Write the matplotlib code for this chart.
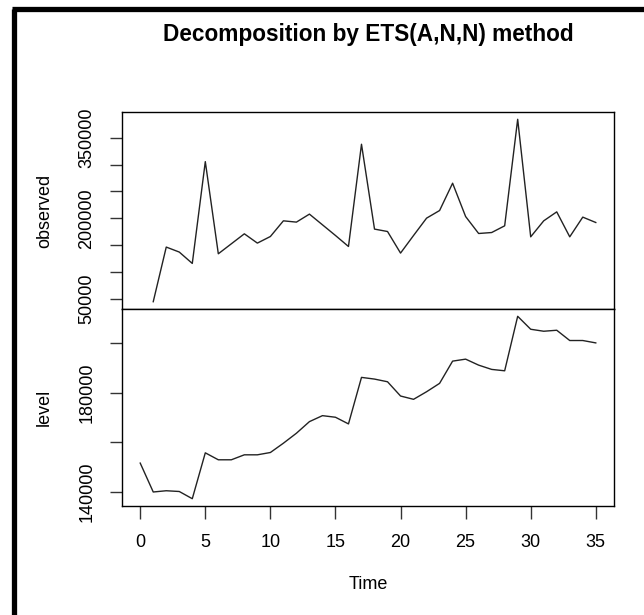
import matplotlib
matplotlib.use("Agg")
import matplotlib.pyplot as plt
from matplotlib.lines import Line2D

plt.rcParams['font.family'] = ['Liberation Sans', 'DejaVu Sans']

title = "Decomposition by ETS(A,N,N) method"

obs_time = list(range(1, 36))
observed = [44400, 146200, 136900, 115700, 305400, 133700, 152300, 170900, 153600, 165900,
            195100, 192700, 207600, 187700, 167800, 147300, 337800, 179700, 175200, 135000,
            167800, 200100, 214300, 265200, 203100, 171500, 173300, 185800, 384300, 165300,
            195100, 211800, 165300, 202000, 192000]

lvl_time = list(range(0, 36))
level = [151620, 140000, 140500, 140200, 137300, 155750, 152950, 152950, 154950, 154950,
         155880, 159620, 163630, 168300, 170700, 170060, 167380, 186090, 185410, 184330,
         178600, 177270, 180320, 183690, 192630, 193430, 191020, 189300, 188740, 210660,
         205450, 204650, 205050, 200920, 200920, 199960]

obs_ticks = [50000, 100000, 150000, 200000, 250000, 300000, 350000]
obs_labels = ["50000", "", "", "200000", "", "", "350000"]
lvl_ticks = [140000, 160000, 180000, 200000]
lvl_labels = ["140000", "", "180000", ""]
x_ticks = [0, 5, 10, 15, 20, 25, 30, 35]

W, H = 644, 615
fig = plt.figure(figsize=(W / 100, H / 100), dpi=100)

left, right = 122 / W, 614 / W
top, mid, bot = 1 - 112 / H, 1 - 309 / H, 1 - 506 / H
ax1 = fig.add_axes([left, mid, right - left, top - mid])
ax2 = fig.add_axes([left, bot, right - left, mid - bot])

line_kw = dict(color='#222222', lw=1.0)
ax1.plot(obs_time, observed, **line_kw)
ax2.plot(lvl_time, level, **line_kw)


def r_lim(vals):
    lo, hi = min(vals), max(vals)
    d = (hi - lo) * 0.04
    return lo - d, hi + d


xlo, xhi = r_lim([0, 35])
fs = 13
for ax in (ax1, ax2):
    ax.set_xlim(xlo, xhi)
    for s in ax.spines.values():
        s.set_linewidth(1.0)
        s.set_color('black')
    ax.tick_params(axis='both', direction='out', length=9, width=1.0,
                   labelsize=fs, pad=10, color='#333333')
ax2.tick_params(axis='x', pad=11)

ax1.set_ylim(*r_lim(observed))
ax2.set_ylim(*r_lim(level))

ax1.set_yticks(obs_ticks)
ax1.set_yticklabels(obs_labels, rotation=90, va='center')
ax2.set_yticks(lvl_ticks)
ax2.set_yticklabels(lvl_labels, rotation=90, va='center')

ax1.set_xticks([])
ax1.tick_params(axis='x', bottom=False, labelbottom=False)
ax2.set_xticks(x_ticks)
ax2.set_xticklabels([str(t) for t in x_ticks])

ax1.set_ylabel("observed", fontsize=fs)
ax2.set_ylabel("level", fontsize=fs)
ax1.yaxis.set_label_coords(-(122 - 53) / 492, 0.5)
ax2.yaxis.set_label_coords(-(122 - 53) / 492, 0.5)
ax2.set_xlabel("Time", fontsize=fs)
ax2.xaxis.set_label_coords(0.5, -(576 - 506) / 197)

fig.text((left + right) / 2, 1 - 34 / H, title, ha='center', va='center',
         fontsize=16.3, fontweight='bold')

# outer frame (left and top)
fig.add_artist(Line2D([13.5 / W, 13.5 / W], [0, 1 - 8.5 / H], transform=fig.transFigure,
                      color='black', lw=3.8, solid_capstyle='butt', solid_joinstyle='round'))
fig.add_artist(Line2D([11.6 / W, 1.0], [1 - 8.5 / H, 1 - 8.5 / H], transform=fig.transFigure,
                      color='black', lw=3.8, solid_capstyle='butt'))

fig.savefig("out.png", dpi=100)
